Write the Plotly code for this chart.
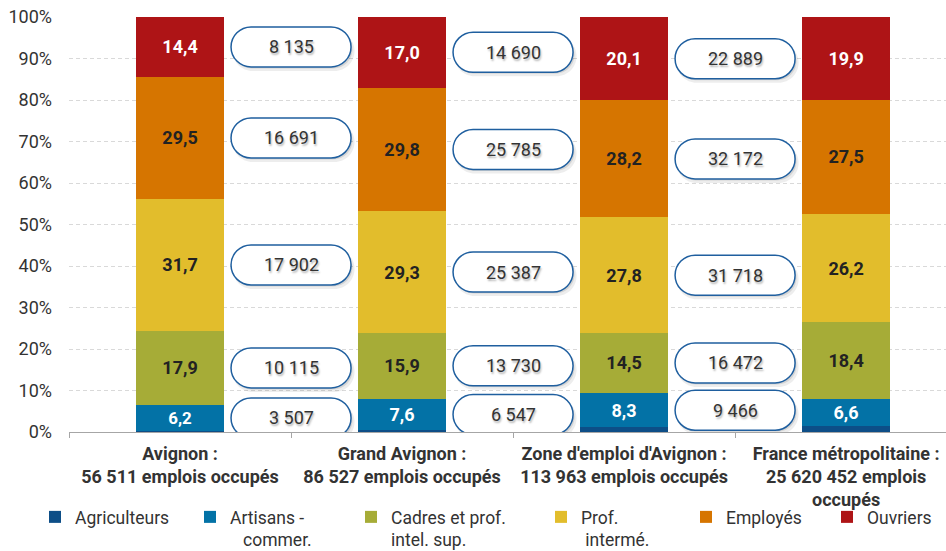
import plotly.graph_objects as go

# ---------------- data ----------------
categories = [
    "Avignon :<br>56 511 emplois occupés",
    "Grand Avignon :<br>86 527 emplois occupés",
    "Zone d'emploi d'Avignon :<br>113 963 emplois occupés",
    "France métropolitaine :<br>25 620 452 emplois<br>occupés",
]
series_names = [
    "Agriculteurs",
    "Artisans -<br>\u00a0\u00a0\u00a0commer.",
    "Cadres et prof.<br>intel. sup.",
    "Prof.<br>\u00a0intermé.",
    "Employés",
    "Ouvriers",
]
agriculteurs = [0.3, 0.4, 1.1, 1.4]
artisans = [6.2, 7.6, 8.3, 6.6]
cadres = [17.9, 15.9, 14.5, 18.4]
prof_interm = [31.7, 29.3, 27.8, 26.2]
employes = [29.5, 29.8, 28.2, 27.5]
ouvriers = [14.4, 17.0, 20.1, 19.9]

# counts shown in callouts (artisans, cadres, prof. interm., employés, ouvriers)
counts_avignon = [3507, 10115, 17902, 16691, 8135]
counts_grand_avignon = [6547, 13730, 25387, 25785, 14690]
counts_zone = [9466, 16472, 31718, 32172, 22889]

y_ticks = [0, 10, 20, 30, 40, 50, 60, 70, 80, 90, 100]

# ---------------- styles ----------------
series = [agriculteurs, artisans, cadres, prof_interm, employes, ouvriers]
colors = ["#0D4E87", "#0372A6", "#A6AC37", "#E2BD2C", "#D67500", "#AE1416"]
label_colors = [None, "white", "#222222", "#222222", "#222222", "white"]
FONT = "Roboto"
TXT = "#333333"

x_pos = list(range(len(categories)))

W, H = 946, 551
ML, MR, MT, MB = 69, 0, 17, 119

fig = go.Figure()
legend_x_px = [35, 190, 351, 541, 686, 827]
legend_top_px = 499
legend_names = ["legend"] + [f"legend{i}" for i in range(2, 7)]
for i, (name, vals) in enumerate(zip(series_names, series)):
    txt = None
    if label_colors[i] is not None:
        txt = [f"{v:.1f}".replace(".", ",") for v in vals]
    fig.add_trace(go.Bar(
        x=x_pos, y=vals, name=name,
        marker=dict(color=colors[i], line=dict(width=0)),
        text=txt,
        textposition="inside" if txt else "none",
        insidetextanchor="middle",
        textangle=0,
        textfont=dict(family=FONT, size=18, color=label_colors[i] or "white", weight="bold"),
        legend=legend_names[i],
        showlegend=True,
        hoverinfo="skip",
    ))

# ---------------- callouts ----------------
def pill_path(hw, r, dx=0.0, dy=0.0):
    a = hw - r
    k = 0.5523 * r
    p = lambda x, y: f"{x + dx:.2f},{y + dy:.2f}"
    return (
        f"M{p(-a, r)} L{p(a, r)} "
        f"C{p(a + k, r)} {p(a + r, k)} {p(a + r, 0)} "
        f"C{p(a + r, -k)} {p(a + k, -r)} {p(a, -r)} "
        f"L{p(-a, -r)} "
        f"C{p(-a - k, -r)} {p(-a - r, -k)} {p(-a - r, 0)} "
        f"C{p(-a - r, k)} {p(-a - k, r)} {p(-a, r)} Z"
    )

all_counts = [counts_avignon, counts_grand_avignon, counts_zone]
shapes = []
annotations = []
for ci, counts in enumerate(all_counts):
    base = agriculteurs[ci]
    segs = [artisans[ci], cadres[ci], prof_interm[ci], employes[ci], ouvriers[ci]]
    for si, (seg, cnt) in enumerate(zip(segs, counts)):
        mid = base + seg / 2
        base += seg
        xa = ci + 0.5
        common = dict(type="path", xref="x", yref="y", xsizemode="pixel",
                      ysizemode="pixel", xanchor=xa, yanchor=mid, layer="above")
        shapes.append(dict(common, path=pill_path(61, 20, 2.5, -4),
                           fillcolor="rgba(0,0,0,0.07)", line=dict(width=0)))
        shapes.append(dict(common, path=pill_path(60, 19, 1.5, -2.5),
                           fillcolor="rgba(0,0,0,0.10)", line=dict(width=0)))
        shapes.append(dict(common, path=pill_path(60, 20),
                           fillcolor="white", line=dict(color="#1F5F9F", width=1.5)))
        annotations.append(dict(
            x=xa, y=mid, xref="x", yref="y", showarrow=False,
            text=f"{cnt:,}".replace(",", " "),
            font=dict(family=FONT, size=18, color=TXT,
                      shadow="1px 2px 2px rgba(0,0,0,0.3)"),
            xanchor="center", yanchor="middle",
        ))

# ---------------- layout ----------------
legends = {}
for i, ln in enumerate(legend_names):
    legends[ln] = dict(
        xref="container", yref="container",
        x=legend_x_px[i] / W, y=1 - legend_top_px / H,
        xanchor="left", yanchor="top", orientation="h",
        bgcolor="rgba(0,0,0,0)", borderwidth=0, valign="top",
        font=dict(family=FONT, size=17.5, color=TXT),
        itemwidth=30, tracegroupgap=0,
    )

fig.update_layout(
    width=W, height=H, autosize=False,
    barmode="stack", bargap=0.6,
    plot_bgcolor="white", paper_bgcolor="white",
    font=dict(family=FONT, size=18, color=TXT),
    margin=dict(l=ML, r=MR, t=MT, b=MB, autoexpand=False),
    shapes=shapes, annotations=annotations,
    showlegend=True,
    xaxis=dict(
        range=[-0.5, 3.45], tickmode="array", tickvals=x_pos,
        ticktext=[f"<b>{c}</b>" for c in categories],
        tickfont=dict(family=FONT, size=18, color=TXT),
        showgrid=False, zeroline=False, showline=True,
        linecolor="#A6A6A6", linewidth=1, ticks="",
        ticklabelstandoff=5,
        minor=dict(ticks="outside", ticklen=5, tickcolor="#A6A6A6",
                   tickmode="array", tickvals=[-0.5, 0.5, 1.5, 2.5],
                   showgrid=False),
        fixedrange=True,
    ),
    yaxis=dict(
        range=[0, 100], tickmode="array", tickvals=y_ticks,
        ticktext=[f"{t}%" for t in y_ticks],
        tickfont=dict(family=FONT, size=18, color=TXT),
        showgrid=True, gridcolor="#D9D9D9", griddash="4px,3px", gridwidth=1,
        zeroline=False, showline=False, ticks="",
        ticklabelstandoff=16, fixedrange=True,
    ),
    **legends,
)

fig.write_html(
    "out.html",
    config={"displayModeBar": False},
    post_script="document.body.style.margin='0';document.documentElement.style.overflow='hidden';",
)
